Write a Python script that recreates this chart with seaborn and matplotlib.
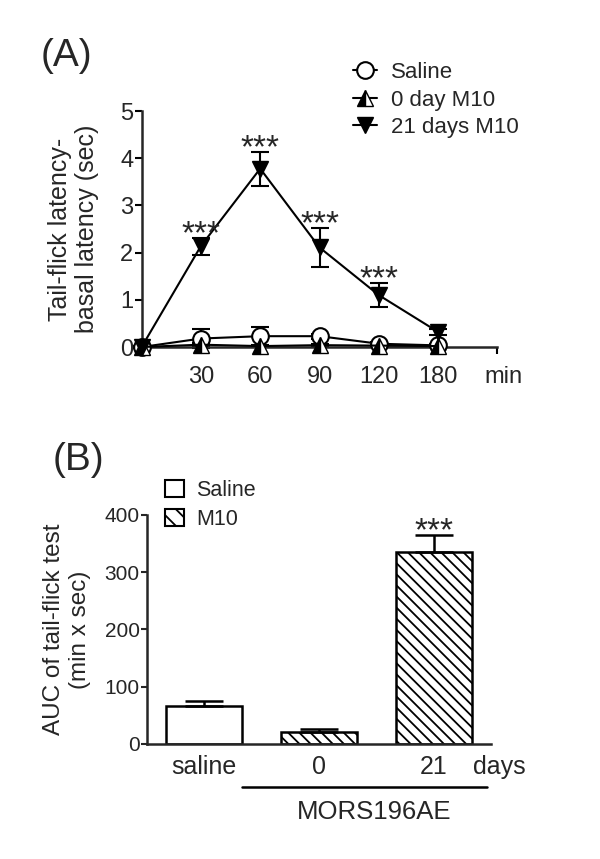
import numpy as np
import pandas as pd
import matplotlib
matplotlib.use('Agg')
import matplotlib.pyplot as plt
import seaborn as sns
from matplotlib.lines import Line2D
from matplotlib.patches import Patch

# panel A: tail-flick latency time course (mean, sem)
times = ['0', '30', '60', '90', '120', '180']
saline_mean = [0.0, 0.18, 0.23, 0.23, 0.07, 0.035]
saline_sem = [0.02, 0.20, 0.20, 0.05, 0.04, 0.03]
m10_0d_mean = [0.0, 0.05, 0.02, 0.04, 0.03, 0.02]
m10_0d_sem = [0.02, 0.03, 0.02, 0.03, 0.02, 0.02]
m10_21d_mean = [0.0, 2.14, 3.78, 2.11, 1.10, 0.32]
m10_21d_sem = [0.02, 0.18, 0.36, 0.41, 0.26, 0.06]
star_idx = [1, 2, 3, 4]

# panel B: AUC
groups = ['saline', '0', '21']
auc_mean = [66.8, 21.5, 335.4]
auc_sem = [7.7, 4.1, 30.4]

sns.set_theme(style='ticks')
plt.rcParams['font.family'] = ['Liberation Sans', 'DejaVu Sans']
plt.rcParams['hatch.linewidth'] = 1.3
plt.rcParams['axes.linewidth'] = 1.8

fig = plt.figure(figsize=(6, 8.59), dpi=100)
ax_a = fig.add_axes([0.236, 0.596, 0.593, 0.2747])
ax_b = fig.add_axes([0.2445, 0.1339, 0.574, 0.2666])

pos = np.arange(len(times))
series = [
    ('Saline', saline_mean, saline_sem, dict(marker='o', markersize=12, markerfacecolor='white',
                                              markeredgecolor='black', markeredgewidth=1.5)),
    ('0 day M10', m10_0d_mean, m10_0d_sem, dict(marker='^', markersize=11, markerfacecolor='black',
                                                 fillstyle='left', markerfacecoloralt='white',
                                                 markeredgecolor='black', markeredgewidth=1.0)),
    ('21 days M10', m10_21d_mean, m10_21d_sem, dict(marker='v', markersize=11, markerfacecolor='black',
                                                     markeredgecolor='black', markeredgewidth=1.0)),
]
handles = []
for name, mean, sem, mk in series:
    ax_a.errorbar(pos, mean, yerr=sem, fmt='none', ecolor='black', elinewidth=1.5,
                  capsize=6.5, capthick=1.5, clip_on=False, zorder=2)
    df = pd.DataFrame({'pos': pos, 'val': mean})
    sns.lineplot(data=df, x='pos', y='val', ax=ax_a, color='black', linewidth=1.5,
                 clip_on=False, zorder=3, **mk)
    handles.append(Line2D([0], [0], color='black', linewidth=1.5, **mk))

for i in star_idx:
    ax_a.annotate('***', xy=(pos[i], m10_21d_mean[i] + m10_21d_sem[i]), xytext=(0, -4),
                  textcoords='offset points', ha='center', va='baseline', fontsize=24)

ax_a.set_xlim(0, 6)
ax_a.set_ylim(0, 5)
ax_a.set_xticks([1, 2, 3, 4, 5, 6])
ax_a.set_xticklabels(times[1:] + [''])
ax_a.set_yticks([0, 1, 2, 3, 4, 5])
ax_a.tick_params(axis='both', labelsize=17, width=1.5, length=5, color='black')
ax_a.tick_params(axis='y', pad=1)
ax_a.tick_params(axis='x', pad=8.5)
ax_a.set_xlabel('')
ax_a.set_ylabel('Tail-flick latency-\nbasal latency (sec)', fontsize=18, labelpad=15)
ax_a.text(6.1, -0.126, 'min', transform=ax_a.get_xaxis_transform(), ha='center', va='center',
          fontsize=17)
sns.despine(ax=ax_a)
fig.legend(handles, [s[0] for s in series], loc='upper left', bbox_to_anchor=(0.588, 0.928),
           frameon=False, fontsize=16, handlelength=1.1, handletextpad=0.6, labelspacing=0.3,
           borderpad=0, borderaxespad=0)
fig.text(0.11, 1 - 56 / 859, '(A)', fontsize=28, ha='center', va='center')

# panel B
sns.barplot(x=groups, y=auc_mean, ax=ax_b, color='white', edgecolor='black', linewidth=1.8,
            width=0.66, saturation=1)
for j, bar in enumerate(ax_b.patches):
    bar.set_facecolor('white')
    if j > 0:
        bar.set_hatch('\\\\\\')
ax_b.errorbar(np.arange(len(groups)), auc_mean, yerr=[np.zeros(len(groups)), auc_sem], fmt='none',
              ecolor='black', elinewidth=1.8, capsize=14, capthick=1.8, zorder=3)
ax_b.annotate('***', xy=(2, auc_mean[2] + auc_sem[2]), xytext=(0, -4), textcoords='offset points',
              ha='center', va='baseline', fontsize=24)
ax_b.set_xlim(-0.5, 2.5)
ax_b.set_ylim(0, 400)
ax_b.set_yticks([0, 100, 200, 300, 400])
ax_b.tick_params(axis='y', labelsize=15, width=1.5, length=4, pad=1)
ax_b.tick_params(axis='x', labelsize=18, length=0, pad=8)
ax_b.set_ylabel('AUC of tail-flick test\n(min x sec)', fontsize=17.5, labelpad=10)
sns.despine(ax=ax_b)
ax_b.text(2.57, -0.099, 'days', transform=ax_b.get_xaxis_transform(), ha='center', va='center',
          fontsize=18)
ax_b.plot([0.33, 2.46], [-0.186, -0.186], transform=ax_b.get_xaxis_transform(), color='black',
          linewidth=1.8, clip_on=False)
ax_b.text(1.48, -0.296, 'MORS196AE', transform=ax_b.get_xaxis_transform(), ha='center',
          va='center', fontsize=18.5)
leg_handles = [Patch(facecolor='white', edgecolor='black', linewidth=1.5),
               Patch(facecolor='white', edgecolor='black', linewidth=1.5, hatch='\\\\')]
fig.legend(leg_handles, ['Saline', 'M10'], loc='upper left', bbox_to_anchor=(0.275, 0.441),
           frameon=False, fontsize=15.5, handlelength=0.9, handleheight=0.85, handletextpad=0.55,
           labelspacing=0.35, borderpad=0, borderaxespad=0)
fig.text(78 / 600, 1 - 460 / 859, '(B)', fontsize=28, ha='center', va='center')

fig.savefig('out.png', dpi=100, facecolor='white')
